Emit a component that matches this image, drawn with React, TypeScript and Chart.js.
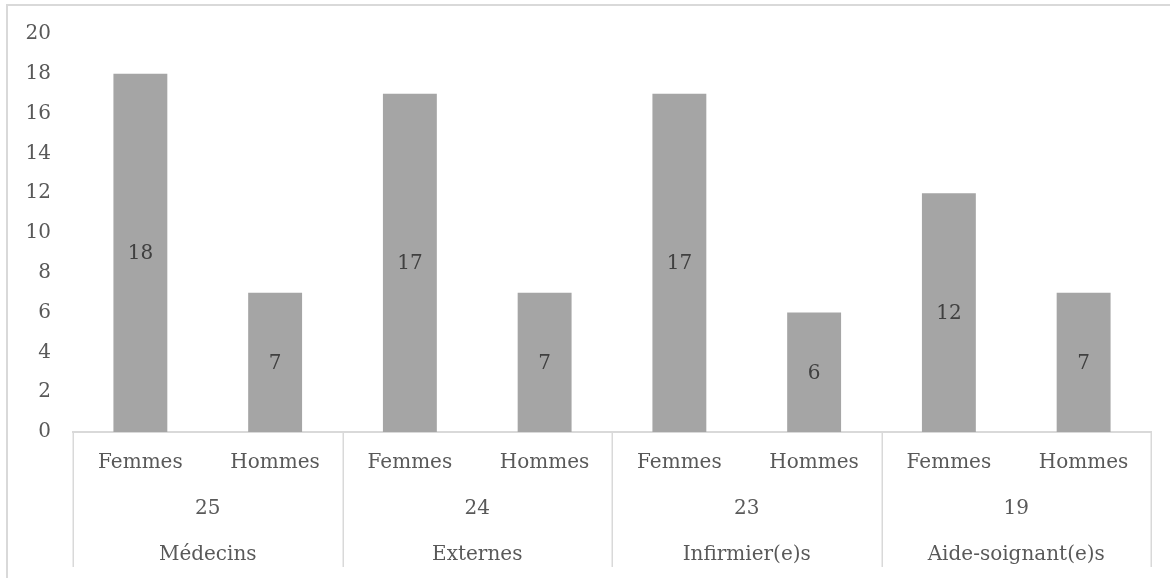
import React, { useEffect, useRef } from "react";
import { Chart, registerables } from "chart.js";

Chart.register(...registerables);

const subCategories = ["Femmes", "Hommes", "Femmes", "Hommes", "Femmes", "Hommes", "Femmes", "Hommes"];
const values = [18, 7, 17, 7, 17, 6, 12, 7];
const groupTotals = ["25", "24", "23", "19"];
const groupNames = ["Médecins", "Externes", "Infirmier(e)s", "Aide-soignant(e)s"];
const yTicks = [0, 2, 4, 6, 8, 10, 12, 14, 16, 18, 20];

const FONT = "'DejaVu Serif', serif";
const AXIS_COLOR = "#595959";
const LINE_COLOR = "#d9d9d9";

const dataLabels = {
  id: "dataLabels",
  afterDatasetsDraw(chart: any) {
    const ctx = chart.ctx;
    const meta = chart.getDatasetMeta(0);
    ctx.save();
    ctx.font = `20px ${FONT}`;
    ctx.fillStyle = "#404040";
    ctx.textAlign = "center";
    ctx.textBaseline = "middle";
    meta.data.forEach((bar: any, i: number) => {
      const p = bar.getProps(["x", "y", "base"], true);
      ctx.fillText(String(values[i]), p.x, (p.y + p.base) / 2 + 1);
    });
    ctx.restore();
  },
};

const separators = {
  id: "separators",
  afterDraw(chart: any) {
    const ctx = chart.ctx;
    const x = chart.scales.x;
    const top = chart.chartArea.bottom;
    const bottom = chart.scales.x3.bottom - 11;
    ctx.save();
    ctx.strokeStyle = LINE_COLOR;
    ctx.lineWidth = 1.5;
    for (let i = 0; i <= subCategories.length; i += 2) {
      const px = Math.round(x.getPixelForValue(i - 0.5)) + 0.25;
      ctx.beginPath();
      ctx.moveTo(px, top);
      ctx.lineTo(px, bottom);
      ctx.stroke();
    }
    ctx.restore();
  },
};

export default function App() {
  const ref = useRef<HTMLCanvasElement>(null);
  useEffect(() => {
    if (!ref.current) return;
    const chart = new Chart(ref.current, {
      type: "bar",
      data: {
        labels: subCategories,
        datasets: [
          {
            data: values,
            backgroundColor: "#a5a5a5",
            borderWidth: 0,
            barPercentage: 0.4,
            categoryPercentage: 1,
          },
        ],
      },
      options: {
        animation: false,
        responsive: true,
        maintainAspectRatio: false,
        layout: { padding: { left: 8, right: 19, top: 33, bottom: 0 } },
        plugins: { legend: { display: false }, tooltip: { enabled: false } },
        scales: {
          y: {
            min: 0,
            max: 20,
            afterBuildTicks: (s: any) => {
              s.ticks = yTicks.map((v) => ({ value: v }));
            },
            afterFit: (s: any) => {
              s.width = 65;
            },
            grid: { display: false, drawTicks: false },
            border: { display: false },
            ticks: { color: AXIS_COLOR, font: { family: FONT, size: 20 }, padding: 22 },
          },
          x: {
            type: "category",
            position: "bottom",
            weight: 0,
            offset: true,
            afterFit: (s: any) => {
              s.height = 55;
            },
            grid: { display: false, drawTicks: false },
            border: { display: true, color: LINE_COLOR, width: 2 },
            ticks: { color: AXIS_COLOR, font: { family: FONT, size: 20 }, padding: 19, maxRotation: 0, autoSkip: false },
          },
          x2: {
            type: "category",
            position: "bottom",
            weight: 1,
            offset: true,
            labels: groupTotals,
            afterFit: (s: any) => {
              s.height = 45;
            },
            grid: { display: false, drawTicks: false },
            border: { display: false },
            ticks: { color: AXIS_COLOR, font: { family: FONT, size: 20 }, padding: 10, maxRotation: 0, autoSkip: false },
          },
          x3: {
            type: "category",
            position: "bottom",
            weight: 2,
            offset: true,
            labels: groupNames,
            afterFit: (s: any) => {
              s.height = 46;
            },
            grid: { display: false, drawTicks: false },
            border: { display: false },
            ticks: { color: AXIS_COLOR, font: { family: FONT, size: 20 }, padding: 11, maxRotation: 0, autoSkip: false },
          },
        },
      } as any,
      plugins: [dataLabels, separators],
    });
    return () => chart.destroy();
  }, []);

  return (
    <div style={{ position: "fixed", left: 0, top: 0, width: 1170, height: 578, overflow: "hidden", background: "#fff" }}>
      <div
        style={{
          position: "absolute",
          left: 6,
          top: 4,
          width: 1250,
          height: 700,
          border: `2px solid ${LINE_COLOR}`,
        }}
      />
      <div style={{ position: "absolute", left: 0, top: 0, width: 1170, height: 578 }}>
        <canvas ref={ref} />
      </div>
    </div>
  );
}
